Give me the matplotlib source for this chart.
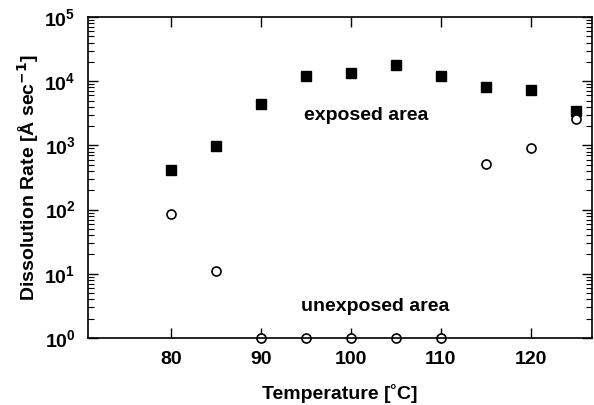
import matplotlib.pyplot as plt
from matplotlib.ticker import LogLocator, NullFormatter

plt.rcParams['font.family'] = ['Liberation Sans', 'DejaVu Sans']
plt.rcParams['font.weight'] = 'bold'

# data
temp = [80, 85, 90, 95, 100, 105, 110, 115, 120, 125]
exposed = [415, 980, 4400, 12000, 13500, 18000, 12000, 8100, 7300, 3450]
unexposed = [85, 11, 1, 1, 1, 1, 1, 510, 910, 2600]

fig = plt.figure(figsize=(5.94, 4.05), dpi=100)
ax = fig.add_axes([88 / 594, 1 - 338 / 405, (592 - 88) / 594, (338 - 17) / 405])

ax.plot(temp, exposed, 's', color='black', markersize=7, clip_on=False)
ax.plot(temp, unexposed, 'o', mfc='white', mec='black', mew=1.2, markersize=6.5, clip_on=False)

ax.set_yscale('log')
ax.set_ylim(1, 1e5)
ax.set_xlim(70.8, 126.8)
ax.set_xticks([80, 90, 100, 110, 120])
ax.yaxis.set_major_locator(LogLocator(base=10, numticks=10))
ax.yaxis.set_minor_locator(LogLocator(base=10, subs=range(2, 10), numticks=10))
ax.yaxis.set_minor_formatter(NullFormatter())

ax.tick_params(which='major', direction='in', length=7, width=1, top=True, right=True,
               labelsize=14)
ax.tick_params(axis='x', which='major', pad=9)
ax.tick_params(axis='y', which='major', pad=9)
ax.tick_params(which='minor', direction='in', length=4, width=0.8, top=True, right=True)
for s in ax.spines.values():
    s.set_linewidth(1.2)

ax.text(101.7, 2.9e3, 'exposed area', ha='center', va='center', fontsize=14, fontweight='bold')
ax.text(102.7, 3.15, 'unexposed area', ha='center', va='center', fontsize=14, fontweight='bold')

ax.set_xlabel('Temperature [˚C]', fontsize=14, fontweight='bold', labelpad=12)
ax.set_ylabel('Dissolution Rate [Å sec$^{\\mathbf{-1}}$]', fontsize=14, fontweight='bold', labelpad=2)

fig.savefig('out.png', dpi=100)
